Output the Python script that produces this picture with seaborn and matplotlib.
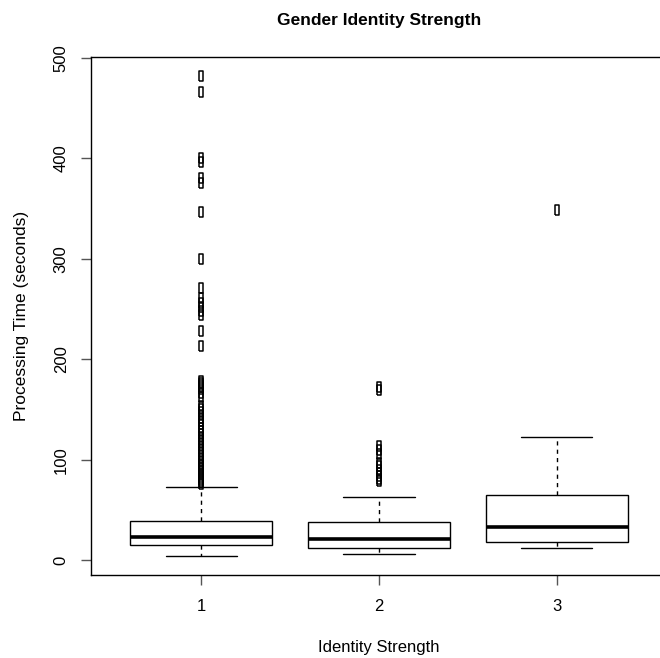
import numpy as np
import pandas as pd
import seaborn as sns
import matplotlib.pyplot as plt

# identity strength groups
groups = ["1", "2", "3"]

# group 1: body of the distribution as value / count table, plus outliers
g1_vals = [4, 8, 12, 15, 19, 23, 28, 33, 39, 50, 62, 73]
g1_counts = [1, 19, 35, 10, 35, 25, 25, 25, 7, 1, 1, 1]
g1_out = [482, 466, 400, 396, 380, 376, 347, 300, 271, 261, 256, 252,
          248, 244, 228, 213, 178, 176, 174, 172, 170, 166, 162, 153, 150, 147,
          144, 141, 138, 135, 132, 129, 126, 123, 120, 117, 114, 111, 108, 105,
          102, 99, 96, 94, 92, 90, 88, 86, 84, 82, 80, 78, 76]

# group 2
g2_vals = [6, 9, 11, 12.3, 16, 18, 20.6, 25, 32, 38.2, 52, 63]
g2_counts = [1, 8, 5, 3, 7, 5, 2, 6, 7, 2, 1, 1]
g2_out = [172, 169, 114, 110, 106, 97, 94, 90, 87, 84, 81, 79]

# group 3 (small group)
g3_time = [11.6, 14, 16, 17.6, 22, 28, 33.2, 41, 52, 64.7, 88, 122.8, 349]

g1_time = list(np.repeat(g1_vals, g1_counts)) + g1_out
g2_time = list(np.repeat(g2_vals, g2_counts)) + g2_out

df = pd.DataFrame({
    "strength": ["1"] * len(g1_time) + ["2"] * len(g2_time) + ["3"] * len(g3_time),
    "time": g1_time + g2_time + g3_time,
})

sns.set_theme(style="ticks")
plt.rcParams['font.family'] = ['Liberation Sans', 'DejaVu Sans']
plt.rcParams['text.color'] = 'black'
plt.rcParams['axes.labelcolor'] = 'black'

fig = plt.figure(figsize=(6.6, 6.58), dpi=100)
ax = fig.add_axes([91 / 660, 83 / 658, 576 / 660, 518 / 658])

# tall narrow open marker, like the squeezed R circles
rect = [(-0.45, -1), (0.45, -1), (0.45, 1), (-0.45, 1), (-0.45, -1)]

sns.boxplot(data=df, x="strength", y="time", order=groups, ax=ax,
            width=0.8, color="white", saturation=1, linecolor="black",
            linewidth=1, whis=1.5,
            whiskerprops=dict(linestyle=(0, (3, 3))),
            medianprops=dict(linewidth=2.6),
            flierprops=dict(marker=rect, markersize=6.5, markerfacecolor="none",
                            markeredgecolor="black", markeredgewidth=1.1))

ax.set_xlim(-0.62, 2.62)
ax.set_ylim(-14.9, 501)
ax.set_yticks([0, 100, 200, 300, 400, 500])
ax.set_yticklabels(["0", "100", "200", "300", "400", "500"], rotation=90, va="center")

for s in ax.spines.values():
    s.set_color("black")
    s.set_linewidth(1)

ax.tick_params(axis="both", length=7, width=1, color="#555555", labelsize=12,
               labelcolor="black")
ax.tick_params(axis="y", pad=9)
ax.tick_params(axis="x", pad=10)

ax.set_title("Gender Identity Strength", fontsize=12.5, fontweight="bold", pad=23,
             color="black")
ax.set_xlabel("Identity Strength", fontsize=12, labelpad=19)
ax.set_ylabel("Processing Time (seconds)", fontsize=12.5, labelpad=18)

fig.savefig("out.png", dpi=100)
